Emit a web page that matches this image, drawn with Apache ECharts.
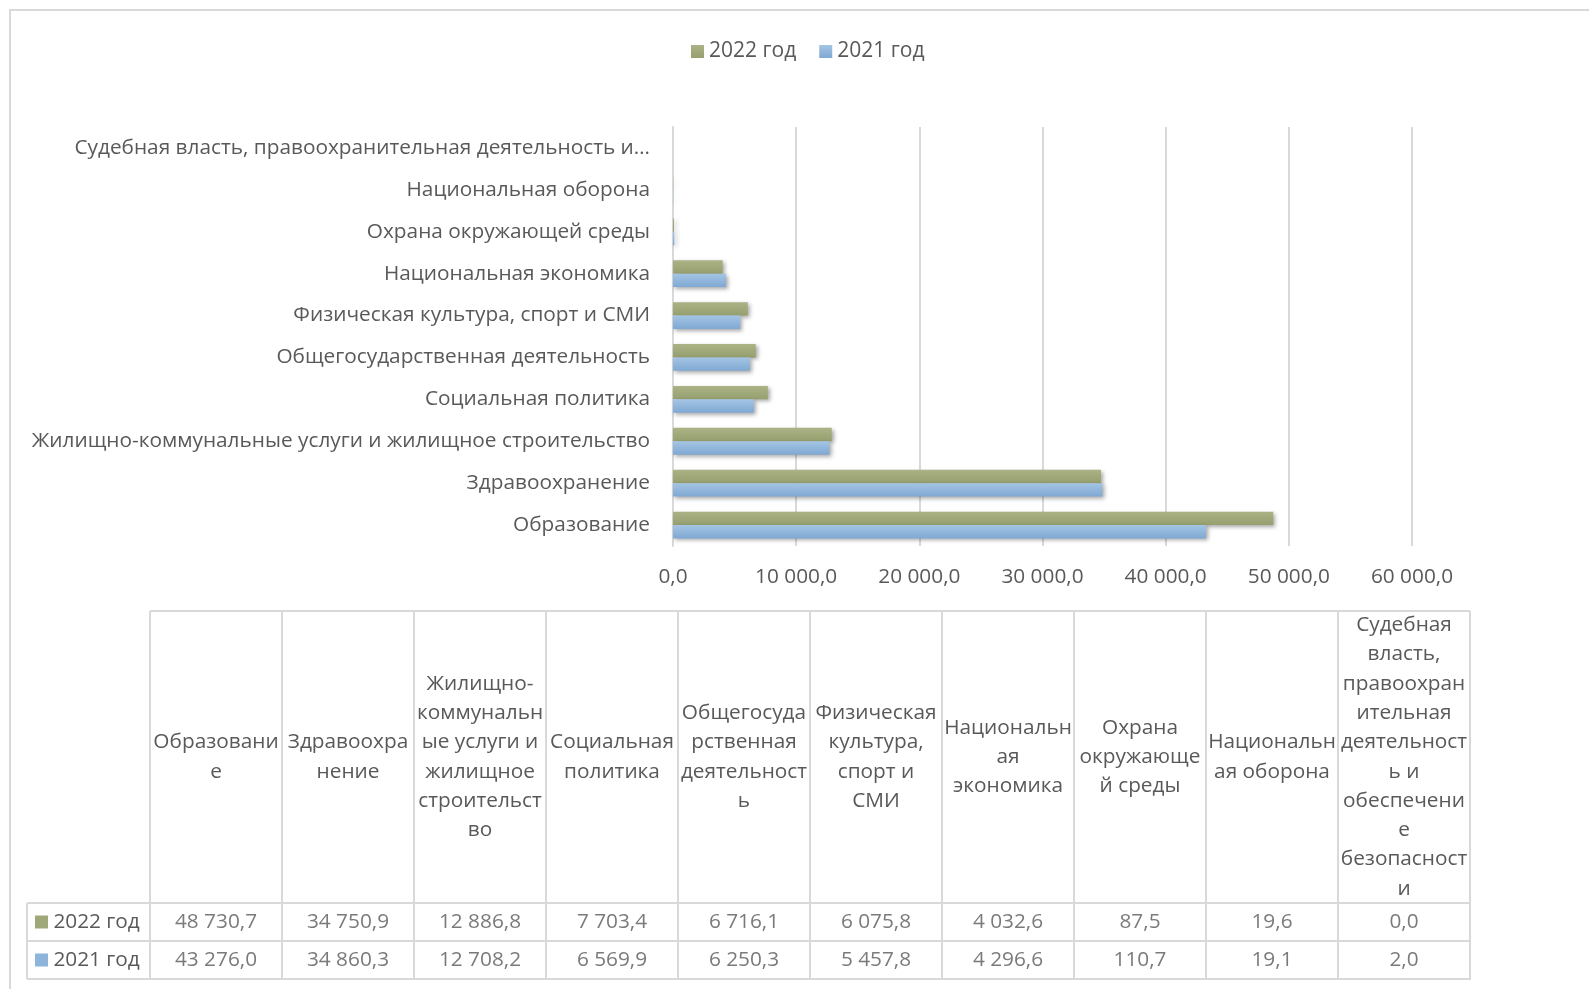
<!DOCTYPE html>
<html>
<head>
<meta charset="utf-8">
<script src="https://cdn.jsdelivr.net/npm/echarts@6/dist/echarts.min.js"></script>
<style>
html,body{margin:0;padding:0;background:#fff;}
#chart{width:1589px;height:989px;}
</style>
</head>
<body>
<div id="chart"></div>
<script>
// ---- data ----
const categories = [
  'Образование',
  'Здравоохранение',
  'Жилищно-коммунальные услуги и жилищное строительство',
  'Социальная политика',
  'Общегосударственная деятельность',
  'Физическая культура, спорт и СМИ',
  'Национальная экономика',
  'Охрана окружающей среды',
  'Национальная оборона',
  'Судебная власть, правоохранительная деятельность и обеспечение безопасности'
];
const headerLabels = [
  'Образовани\nе',
  'Здравоохра\nнение',
  'Жилищно-\nкоммунальн\nые услуги и\nжилищное\nстроительст\nво',
  'Социальная\nполитика',
  'Общегосуда\nрственная\nдеятельност\nь',
  'Физическая\nкультура,\nспорт и\nСМИ',
  'Национальн\nая\nэкономика',
  'Охрана\nокружающе\nй среды',
  'Национальн\nая оборона',
  'Судебная\nвласть,\nправоохран\nительная\nдеятельност\nь и\nобеспечени\nе\nбезопасност\nи'
];
const values2022 = [48730.7, 34750.9, 12886.8, 7703.4, 6716.1, 6075.8, 4032.6, 87.5, 19.6, 0.0];
const values2021 = [43276.0, 34860.3, 12708.2, 6569.9, 6250.3, 5457.8, 4296.6, 110.7, 19.1, 2.0];
const seriesNames = ['2022 год', '2021 год'];
const tableRows = ['2021 год', '2022 год'];

// ---- helpers ----
function fmt(v) {
  const s = Number(v).toFixed(1).split('.');
  return s[0].replace(/\B(?=(\d{3})+(?!\d))/g, ' ') + ',' + s[1];
}
const FONT = '"Open Sans", "DejaVu Sans", sans-serif';
const FS = 20.8;
const measureCtx = document.createElement('canvas').getContext('2d');
measureCtx.font = FS + 'px ' + FONT;
function truncWords(text, maxW) {
  if (measureCtx.measureText(text).width <= maxW) return text;
  const words = text.split(' ');
  while (words.length > 1) {
    words.pop();
    const t = words.join(' ') + '…';
    if (measureCtx.measureText(t).width <= maxW) return t;
  }
  return words[0] + '…';
}

const GREEN = new echarts.graphic.LinearGradient(0, 0, 0, 1, [
  {offset: 0, color: '#abb386'}, {offset: 1, color: '#969f6e'}]);
const BLUE = new echarts.graphic.LinearGradient(0, 0, 0, 1, [
  {offset: 0, color: '#a4c5e4'}, {offset: 1, color: '#7fa8d3'}]);
const GREEN_SOLID = '#9fa878';
const BLUE_SOLID = '#8fb4da';
const TXT = '#595959';
const LINE = '#d9d9d9';

const cellData = [];
values2022.forEach((v, i) => cellData.push([i, '2022 год', v]));
values2021.forEach((v, i) => cellData.push([i, '2021 год', v]));

const chart = echarts.init(document.getElementById('chart'));
const shadow = {shadowColor: 'rgba(0,0,0,0.35)', shadowBlur: 4, shadowOffsetX: 2, shadowOffsetY: 2};

chart.setOption({
  backgroundColor: '#fff',
  textStyle: {fontFamily: FONT},
  animation: false,
  legend: {
    data: seriesNames,
    left: 686, top: 36,
    itemWidth: 13, itemHeight: 13, itemGap: 23,
    icon: 'rect',
    textStyle: {fontSize: 21, color: TXT, fontFamily: FONT},
    itemStyle: {shadowBlur: 0, shadowOffsetX: 0, shadowOffsetY: 0}
  },
  graphic: [
    {type: 'rect', z: -1, silent: true, shape: {x: 10, y: 10, width: 1640, height: 1040},
     style: {fill: 'none', stroke: LINE, lineWidth: 2}},
    {type: 'line', silent: true, shape: {x1: 150, y1: 611, x2: 1470, y2: 611},
     style: {stroke: LINE, lineWidth: 2}},
    {type: 'line', silent: true, shape: {x1: 27, y1: 903, x2: 27, y2: 979},
     style: {stroke: LINE, lineWidth: 2}}
  ],
  grid: [
    {left: 673, right: 177, top: 127, bottom: 443},
    {left: 150, right: 119, top: 903, height: 76, show: true, borderColor: LINE, borderWidth: 2, backgroundColor: 'transparent'}
  ],
  xAxis: [
    {
      gridIndex: 0, type: 'value', min: 0, max: 60000, interval: 10000,
      axisLine: {show: false}, axisTick: {show: false},
      splitLine: {lineStyle: {color: LINE, width: 2}},
      axisLabel: {formatter: v => fmt(v), fontSize: FS, color: TXT, margin: 21, fontFamily: FONT}
    },
    {
      gridIndex: 1, type: 'category', position: 'top', data: categories,
      axisLine: {show: true, lineStyle: {color: LINE, width: 2}},
      axisTick: {show: true, length: 292, lineStyle: {color: LINE, width: 2}},
      splitLine: {show: true, lineStyle: {color: LINE, width: 2}},
      axisLabel: {
        interval: 0, margin: 146, verticalAlign: 'middle', align: 'center',
        fontSize: FS, lineHeight: 29.3, color: TXT, fontFamily: FONT,
        formatter: (v, i) => headerLabels[i]
      }
    }
  ],
  yAxis: [
    {
      gridIndex: 0, type: 'category', data: categories,
      axisLine: {show: true, lineStyle: {color: LINE, width: 2}},
      axisTick: {show: false},
      axisLabel: {fontSize: FS, color: TXT, margin: 23, fontFamily: FONT,
        formatter: v => truncWords(v, 625)}
    },
    {
      gridIndex: 1, type: 'category', data: tableRows,
      axisLine: {show: true, lineStyle: {color: LINE, width: 2}},
      axisTick: {show: true, length: 123, lineStyle: {color: LINE, width: 2}},
      splitLine: {show: true, lineStyle: {color: LINE, width: 2}},
      axisLabel: {
        align: 'left', margin: 115, fontSize: FS, color: TXT, fontFamily: FONT,
        formatter: v => (v === '2022 год' ? '{g|}' : '{b|}') + ' ' + v,
        rich: {
          g: {width: 13, height: 13, backgroundColor: GREEN_SOLID},
          b: {width: 13, height: 13, backgroundColor: BLUE_SOLID}
        }
      }
    }
  ],
  series: [
    {
      name: '2022 год', type: 'bar', xAxisIndex: 0, yAxisIndex: 0,
      data: values2022, barCategoryGap: '36%', barGap: '0%',
      itemStyle: Object.assign({color: GREEN}, shadow)
    },
    {
      name: '2021 год', type: 'bar', xAxisIndex: 0, yAxisIndex: 0,
      data: values2021, barCategoryGap: '36%', barGap: '0%',
      itemStyle: Object.assign({color: BLUE}, shadow)
    },
    {
      name: 'table', type: 'scatter', xAxisIndex: 1, yAxisIndex: 1,
      data: cellData, symbolSize: 0, silent: true,
      label: {show: true, position: 'inside', fontSize: FS, color: TXT, fontFamily: FONT,
        formatter: p => fmt(p.value[2])}
    }
  ]
});
</script>
</body>
</html>
